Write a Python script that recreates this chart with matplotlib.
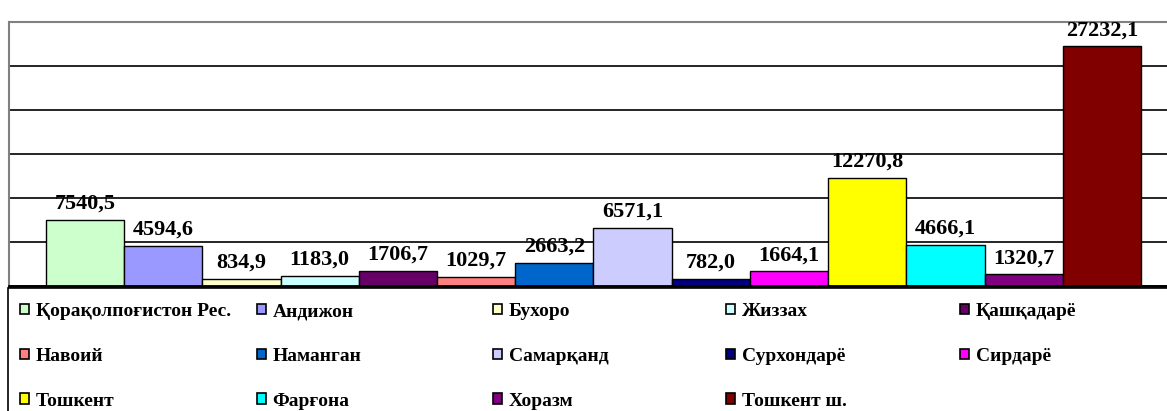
import matplotlib
matplotlib.use("Agg")
import matplotlib.pyplot as plt
from matplotlib.patches import Patch, Rectangle

plt.rcParams['font.family'] = ['Liberation Serif', 'DejaVu Serif']
plt.rcParams['font.weight'] = 'bold'

regions = ["Қорақолпоғистон Рес.", "Андижон", "Бухоро", "Жиззах", "Қашқадарё",
           "Навоий", "Наманган", "Самарқанд", "Сурхондарё", "Сирдарё",
           "Тошкент", "Фарғона", "Хоразм", "Тошкент ш."]
values = [7540.5, 4594.6, 834.9, 1183.0, 1706.7,
          1029.7, 2663.2, 6571.1, 782.0, 1664.1,
          12270.8, 4666.1, 1320.7, 27232.1]
value_labels = ["7540,5", "4594,6", "834,9", "1183,0", "1706,7",
                "1029,7", "2663,2", "6571,1", "782,0", "1664,1",
                "12270,8", "4666,1", "1320,7", "27232,1"]
colors = ["#CCFFCC", "#9999FF", "#FFFFCC", "#CCFFFF", "#660066",
          "#FF8080", "#0066CC", "#CCCCFF", "#000080", "#FF00FF",
          "#FFFF00", "#00FFFF", "#800080", "#800000"]
y_ticks = [0, 5000, 10000, 15000, 20000, 25000, 30000]

W, H = 1167, 411
fig = plt.figure(figsize=(W / 100, H / 100), dpi=100)
fig.patch.set_facecolor("white")

ax_left, ax_right, ax_top, ax_bottom = 9, 1178, 22, 286
ax = fig.add_axes([ax_left / W, (H - ax_bottom) / H,
                   (ax_right - ax_left) / W, (ax_bottom - ax_top) / H])

x = list(range(len(values)))
ax.bar(x, values, width=1.0, color=colors, edgecolor="black", linewidth=1.0, zorder=3)

for xi, v, lab in zip(x, values, value_labels):
    ax.annotate(lab, xy=(xi, v), xytext=(0, 8), textcoords="offset points",
                ha="center", va="baseline", fontsize=16, fontweight="bold",
                zorder=5, annotation_clip=False)

ax.set_xlim(-0.973, len(values) - 1 + 0.973)
ax.set_ylim(0, 30000)
ax.set_yticks(y_ticks)
ax.set_xticks([])
ax.tick_params(axis="y", length=0, labelleft=False)
ax.yaxis.grid(True, color="black", linewidth=1.2, zorder=0)
ax.set_axisbelow(True)
for s in ["left", "top"]:
    ax.spines[s].set_color("#808080")
    ax.spines[s].set_linewidth(1.5)
ax.spines["right"].set_visible(False)
ax.spines["bottom"].set_color("black")
ax.spines["bottom"].set_linewidth(2.0)
ax.spines["bottom"].set_zorder(6)

# legend box
fig.patches.append(Rectangle((8 / W, -0.1), 1.2, (H - 288) / H + 0.1,
                             transform=fig.transFigure, facecolor="none",
                             edgecolor="black", linewidth=1.2))

col_x = [20, 257, 493, 726, 960]
ncol = 5
for c in range(ncol):
    idx = [i for i in range(len(regions)) if i % ncol == c]
    handles = [Patch(facecolor=colors[i], edgecolor="black", linewidth=1.2) for i in idx]
    labels = [regions[i] for i in idx]
    fig.legend(handles, labels, loc="upper left",
               bbox_to_anchor=(col_x[c] / W, (H - 303) / H),
               frameon=False, handlelength=0.45,
               handleheight=0.45, handletextpad=0.35,
               labelspacing=1.43, borderpad=0.0, borderaxespad=0.0,
               prop={"weight": "bold", "size": 14})

fig.savefig("out.png", dpi=100, facecolor="white")
